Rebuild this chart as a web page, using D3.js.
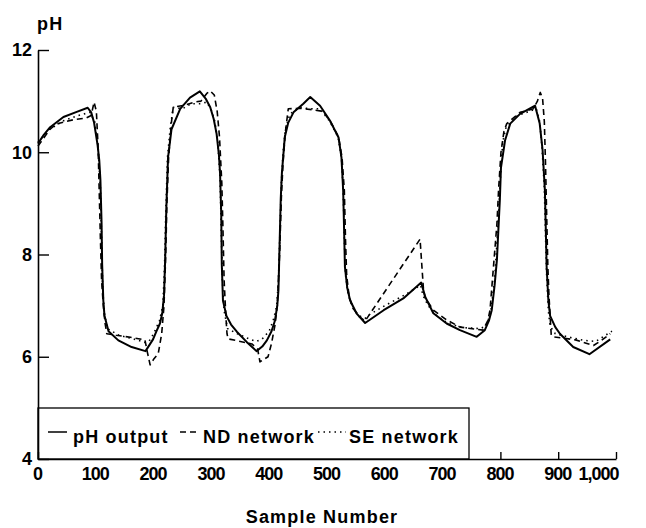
<!DOCTYPE html>
<html>
<head>
<meta charset="utf-8">
<script src="https://cdn.jsdelivr.net/npm/d3@7"></script>
<style>
  body { margin: 0; background: #fff; }
  text { font-family: "Liberation Sans", Arial, sans-serif; font-weight: bold; fill: #000; }
</style>
</head>
<body>
<svg id="chart" width="646" height="528"></svg>
<script>

// Values (sample number, pH)
var outputSamples = [0, 10, 21, 44, 67, 86, 92, 97, 103, 106, 108, 110, 111, 113, 115, 122, 139, 162, 186,
    199, 205, 211, 215, 218, 220, 222, 225, 231, 246, 263, 280, 290, 298, 304, 309, 313, 315, 317, 318, 320,
    326, 334, 344, 361, 378, 388, 396, 404, 410, 414, 416, 418, 420, 422, 427, 433, 442, 459, 471, 488, 505,
    520, 525, 528, 530, 531, 535, 540, 551, 566, 598, 632, 663, 670, 684, 707, 730, 759, 773, 780, 785, 790,
    794, 797, 799, 801, 808, 817, 834, 860, 868, 873, 877, 879, 880, 883, 886, 895, 903, 926, 954, 990];
var outputPH = [10.17, 10.34, 10.49, 10.69, 10.79, 10.87, 10.78, 10.58, 10.15, 9.84, 9.45, 8.6, 7.8, 7.1, 6.8,
    6.5, 6.32, 6.19, 6.11, 6.34, 6.5, 6.65, 6.85, 7.2, 7.9, 8.9, 9.9, 10.45, 10.85, 11.07, 11.19, 11.05, 10.88,
    10.65, 10.36, 9.95, 9.58, 8.8, 7.8, 7.1, 6.8, 6.63, 6.49, 6.29, 6.11, 6.2, 6.32, 6.5, 6.71, 7.0, 7.3, 8.2,
    9.1, 9.6, 10.3, 10.58, 10.78, 10.95, 11.08, 10.91, 10.62, 10.29, 9.9, 9.25, 8.28, 7.76, 7.35, 7.1, 6.85,
    6.66, 6.91, 7.14, 7.45, 7.17, 6.85, 6.65, 6.52, 6.39, 6.52, 6.7, 6.91, 7.4, 7.9, 8.6, 9.06, 9.7, 10.23,
    10.56, 10.75, 10.91, 10.56, 10.04, 9.25, 8.28, 7.76, 7.1, 6.8, 6.58, 6.45, 6.19, 6.05, 6.34];

var ndSamples = [0, 20, 31, 48, 63, 83, 92, 97, 101, 104, 106, 108, 110, 113, 116, 119, 135, 160, 185, 189,
    194, 200, 208, 214, 218, 221, 223, 226, 231, 234, 254, 270, 282, 292, 298, 305, 310, 314, 318, 320, 322,
    325, 327, 329, 350, 370, 380, 384, 398, 404, 410, 414, 418, 421, 424, 428, 433, 453, 476, 493, 507, 520,
    526, 530, 532, 534, 538, 545, 556, 566, 569, 661, 664, 667, 670, 684, 707, 730, 770, 778, 782, 788, 794,
    797, 801, 806, 811, 834, 857, 864, 869, 873, 876, 878, 880, 882, 884, 886, 888, 892, 930, 961, 975, 990];
var ndPH = [10.12, 10.44, 10.55, 10.6, 10.64, 10.67, 10.72, 10.98, 10.8, 10.1, 9.2, 8.3, 7.5, 7.0, 6.66, 6.45,
    6.42, 6.38, 6.33, 6.1, 5.84, 5.95, 6.06, 6.45, 7.0, 8.0, 9.0, 9.9, 10.6, 10.88, 10.92, 10.98, 11.0, 11.15,
    11.2, 11.12, 10.8, 10.3, 9.4, 8.5, 7.5, 6.8, 6.45, 6.35, 6.3, 6.25, 6.15, 5.9, 6.0, 6.26, 6.62, 7.0, 8.0,
    9.1, 9.8, 10.4, 10.85, 10.86, 10.83, 10.8, 10.58, 10.3, 9.9, 9.25, 8.3, 7.6, 7.2, 6.95, 6.78, 6.7, 6.75,
    8.3, 7.8, 7.3, 7.15, 6.91, 6.72, 6.58, 6.52, 6.7, 6.91, 7.76, 8.6, 9.3, 10.0, 10.4, 10.56, 10.78, 10.85,
    11.0, 11.17, 11.05, 10.6, 9.8, 8.8, 7.8, 7.2, 6.8, 6.42, 6.39, 6.33, 6.22, 6.32, 6.45];

var seSamples = [0, 20, 45, 70, 90, 98, 104, 108, 110, 112, 115, 120, 140, 165, 185, 192, 200, 210, 216, 219,
    221, 224, 229, 234, 250, 265, 280, 292, 300, 306, 311, 315, 317, 319, 322, 328, 345, 365, 378, 388, 400,
    408, 413, 416, 419, 421, 424, 428, 436, 453, 470, 488, 505, 519, 525, 528, 530, 532, 537, 545, 556, 566,
    571, 600, 630, 655, 662, 666, 675, 690, 710, 735, 765, 775, 783, 790, 796, 800, 804, 810, 830, 850, 862,
    868, 872, 876, 878, 880, 883, 886, 895, 920, 945, 965, 993];
var sePH = [10.2, 10.45, 10.62, 10.72, 10.78, 10.6, 10.1, 9.3, 8.3, 7.3, 6.85, 6.55, 6.42, 6.35, 6.28, 6.3,
    6.45, 6.7, 7.0, 7.8, 8.8, 9.9, 10.5, 10.88, 10.85, 10.95, 10.95, 10.98, 10.82, 10.6, 10.2, 9.5, 8.5, 7.5,
    6.9, 6.55, 6.45, 6.35, 6.3, 6.35, 6.5, 6.75, 7.0, 7.5, 8.6, 9.4, 10.0, 10.45, 10.75, 10.88, 10.85, 10.85,
    10.6, 10.3, 9.9, 9.25, 8.3, 7.6, 7.2, 6.95, 6.8, 6.75, 6.81, 7.0, 7.18, 7.35, 7.4, 7.2, 7.0, 6.8, 6.65,
    6.57, 6.55, 6.6, 6.85, 7.5, 8.6, 9.5, 10.2, 10.5, 10.72, 10.8, 10.85, 10.6, 10.1, 9.3, 8.4, 7.6, 6.9, 6.6,
    6.45, 6.38, 6.32, 6.3, 6.5];

var xTicks = [0, 100, 200, 300, 400, 500, 600, 700, 800, 900, 1000];
var yTicks = [4, 6, 8, 10, 12];
var legendLabels = ["pH output", "ND network", "SE network"];

// Chart frame
var svg = d3.select("#chart");

var x = d3.scaleLinear()
    .domain([0, 1000])
    .range([38, 616]);

var y = d3.scaleLinear()
    .domain([4, 12])
    .range([459, 50]);

// Series lines
var line = d3.line()
    .x(function (d) { return x(d[0]); })
    .y(function (d) { return y(d[1]); });

var series = [
    { pts: d3.zip(outputSamples, outputPH), width: 2, dash: null },
    { pts: d3.zip(ndSamples, ndPH), width: 1.6, dash: "6,4" },
    { pts: d3.zip(seSamples, sePH), width: 1.6, dash: "1.5,4" }
];

svg.selectAll("path.series")
    .data(series)
    .enter().append("path")
    .attr("class", "series")
    .attr("d", function (d) { return line(d.pts); })
    .attr("fill", "none")
    .attr("stroke", "#000")
    .attr("stroke-width", function (d) { return d.width; })
    .attr("stroke-dasharray", function (d) { return d.dash; })
    .attr("stroke-linejoin", "round");

// Legend box sits on the axis corner and hides the ticks under it
svg.append("rect")
    .attr("x", x(0))
    .attr("y", 408)
    .attr("width", 431)
    .attr("height", y(4) - 408)
    .attr("fill", "#fff")
    .attr("stroke", "#000")
    .attr("stroke-width", 1.3);

var legendItems = [
    { sx: 48, ex: 67, tx: 73, dash: null },
    { sx: 180, ex: 200, tx: 203, dash: "6,4" },
    { sx: 318, ex: 346, tx: 349, dash: "1.5,4" }
];

legendItems.forEach(function (d, i) {
    svg.append("line")
        .attr("x1", d.sx).attr("x2", d.ex)
        .attr("y1", 432).attr("y2", 432)
        .attr("stroke", "#000")
        .attr("stroke-width", 1.5)
        .attr("stroke-dasharray", d.dash);
    svg.append("text")
        .attr("x", d.tx)
        .attr("y", 443)
        .attr("font-size", 18)
        .attr("letter-spacing", 1.2)
        .text(legendLabels[i]);
});

// Axes, ticks point inward
var xAxis = d3.axisBottom(x)
    .tickValues(xTicks)
    .tickSize(-7)
    .tickSizeOuter(0)
    .tickPadding(8)
    .tickFormat(d3.format(","));

var yAxis = d3.axisLeft(y)
    .tickValues(yTicks)
    .tickSize(-11)
    .tickSizeOuter(0)
    .tickPadding(6);

var gx = svg.append("g")
    .attr("transform", "translate(0," + y(4) + ")")
    .call(xAxis);

var gy = svg.append("g")
    .attr("transform", "translate(" + x(0) + ",0)")
    .call(yAxis);

[gx, gy].forEach(function (g) {
    g.select(".domain").attr("stroke", "#000").attr("stroke-width", 1.6);
    g.selectAll(".tick line").attr("stroke", "#000").attr("stroke-width", 1.4);
    g.selectAll(".tick text")
        .attr("font-size", 18)
        .attr("font-family", "Liberation Sans, Arial, sans-serif")
        .attr("font-weight", "bold")
        .attr("fill", "#000");
});

// x labels are set tight like the printed digits
gx.selectAll(".tick text")
    .attr("letter-spacing", -1)
    .attr("dx", -1);

// hide tick marks covered by the legend box
gx.selectAll(".tick line").attr("opacity", function (d) { return d >= 100 && d <= 700 ? 0 : 1; });
gx.selectAll(".tick text").filter(function (d) { return d === 1000; })
    .attr("text-anchor", "end")
    .attr("dx", 2);

// Axis titles
svg.append("text")
    .attr("x", 37)
    .attr("y", 30)
    .attr("font-size", 18)
    .attr("letter-spacing", 1.2)
    .text("pH");

svg.append("text")
    .attr("x", 322)
    .attr("y", 523)
    .attr("text-anchor", "middle")
    .attr("font-size", 18)
    .attr("letter-spacing", 1.2)
    .text("Sample Number");

</script>
</body>
</html>
